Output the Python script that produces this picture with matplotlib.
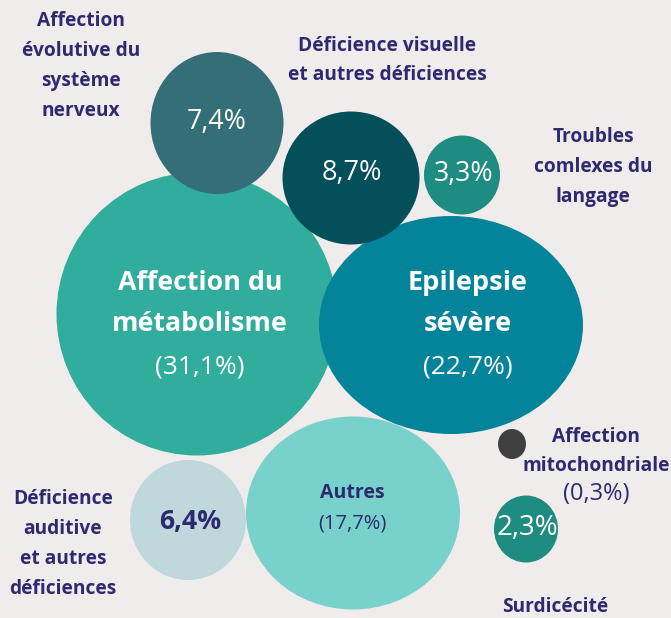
import matplotlib
matplotlib.use("Agg")
import matplotlib.pyplot as plt
from matplotlib.patches import Ellipse

# ---- data ----
categories = ["Affection du métabolisme", "Epilepsie sévère", "Autres",
              "Déficience visuelle et autres déficiences",
              "Affection évolutive du système nerveux",
              "Déficience auditive et autres déficiences",
              "Troubles comlexes du langage", "Surdicécité",
              "Affection mitochondriale"]
values = [31.1, 22.7, 17.7, 8.7, 7.4, 6.4, 3.3, 2.3, 0.3]

# ---- layout (pixel space of the 671x618 canvas) ----
cx = [197, 451, 353, 351, 217, 188, 462, 526, 512]
cy = [314, 325, 513, 178, 123, 520, 175, 529, 444]
bw = [281, 264, 214, 137, 133, 116, 76, 64, 28]
bh = [283, 218, 193, 133, 142, 120, 79, 67, 30]
colors = ["#31ad9e", "#03849a", "#79d1cc", "#034f5a", "#346e77",
          "#bfd8dc", "#1e8c80", "#1e8c80", "#404040"]

BG = "#f1ecec"
NAVY = "#2d2a70"
FONT = ["Open Sans", "DejaVu Sans"]


def fmt(v):
    return f"{v:.1f}".replace(".", ",") + "%"


fig = plt.figure(figsize=(6.71, 6.18), dpi=100, facecolor=BG)
ax = fig.add_axes([0, 0, 1, 1])
ax.set_facecolor(BG)
ax.set_xlim(0, 671)
ax.set_ylim(618, 0)
ax.axis("off")

for x, y, w, h, c in zip(cx, cy, bw, bh, colors):
    ax.add_patch(Ellipse((x, y), w, h, facecolor=c, edgecolor="none"))

def t(x, y, s, size, color=NAVY, weight="normal", **kw):
    ax.text(x, y, s, fontsize=size, color=color, fontweight=weight,
            family=FONT, ha="center", va="center", **kw)

LBL = 13.8
# inside bubbles
t(200, 283, "Affection du", 19.3, "white", "bold")
t(200, 324, "métabolisme", 19.3, "white", "bold")
t(200, 367, f"({fmt(values[0])})", 19, "white")

t(468, 283, "Epilepsie", 19.5, "white", "bold")
t(468, 324, "sévère", 19.5, "white", "bold")
t(468, 367, f"({fmt(values[1])})", 19, "white")

t(352, 493, "Autres", 14, NAVY, "bold")
t(352, 524, f"({fmt(values[2])})", 14.5)

t(352, 173, fmt(values[3]), 19.5, "white")
t(217, 122, fmt(values[4]), 19.3, "white")
t(190, 522, fmt(values[5]), 19.2, NAVY, "bold")
t(464, 174, fmt(values[6]), 19.3, "white")
t(527, 528, fmt(values[7]), 20, "white")

# outside labels
for i, line in enumerate(["Affection", "évolutive du", "système", "nerveux"]):
    t(81, 21 + 30 * i, line, LBL, NAVY, "bold")
for i, line in enumerate(["Déficience visuelle", "et autres déficiences"]):
    t(387, 46 + 29 * i, line, LBL, NAVY, "bold")
for i, line in enumerate(["Troubles", "comlexes du", "langage"]):
    t(593, 137 + 30 * i, line, LBL, NAVY, "bold")
for i, line in enumerate(["Affection", "mitochondriale"]):
    t(596, 437 + 29 * i, line, LBL, NAVY, "bold")
t(596, 494, f"({fmt(values[8])})", 17)
t(555, 607, "Surdicécité", LBL, NAVY, "bold")
for i, line in enumerate(["Déficience", "auditive", "et autres", "déficiences"]):
    t(63, 499 + 30 * i, line, LBL, NAVY, "bold")

fig.savefig("out.png", dpi=100, facecolor=BG)
